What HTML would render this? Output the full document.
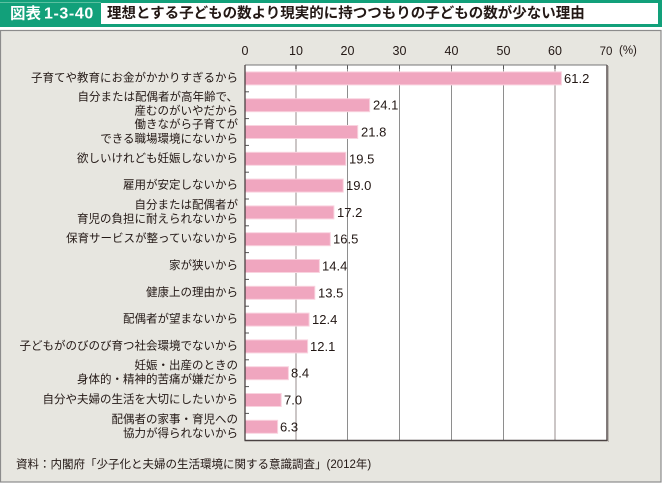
<!DOCTYPE html>
<html><head><meta charset="utf-8"><style>
html,body{margin:0;padding:0;background:#fff;}
svg{display:block;}
text{font-family:"Liberation Sans","Noto Sans CJK JP",sans-serif;fill:#231815;}
.lab{font-size:11.5px;text-anchor:end;dominant-baseline:central;}
.val{font-size:13px;dominant-baseline:central;}
.ax{font-size:12.5px;text-anchor:middle;dominant-baseline:central;}
</style></head><body>
<svg width="662" height="483" viewBox="0 0 662 483" xmlns="http://www.w3.org/2000/svg">
<!-- header -->
<rect x="0" y="0" width="662" height="27" fill="#12a07a"/>
<rect x="0" y="2" width="101" height="1" fill="#5cc0a0"/>
<rect x="101" y="3" width="557" height="21" fill="#fff"/>
<text x="10" y="14" style="font-size:15.5px;font-weight:bold;fill:#fff;dominant-baseline:central;">図表</text>
<text x="44" y="14" style="font-size:16px;font-weight:bold;fill:#fff;dominant-baseline:central;letter-spacing:0.6px;">1-3-40</text>
<text x="107" y="14" style="font-size:14.5px;font-weight:bold;dominant-baseline:central;">理想とする子どもの数より現実的に持つつもりの子どもの数が少ない理由</text>
<!-- panel -->
<rect x="0.5" y="30.5" width="660.5" height="451.5" fill="#e7e6e0" stroke="#8c8c8c" stroke-width="1.2"/>
<!-- plot -->
<rect x="245" y="65" width="362" height="375" fill="#fff"/>
<g stroke-width="1">
<line x1="296" y1="65" x2="296" y2="440" stroke="#cbc6c6" stroke-width="2"/>
<line x1="347.5" y1="65" x2="347.5" y2="440" stroke="#8e8e8e"/>
<line x1="399.5" y1="65" x2="399.5" y2="440" stroke="#8e8e8e"/>
<line x1="451.5" y1="65" x2="451.5" y2="440" stroke="#8e8e8e"/>
<line x1="503.5" y1="65" x2="503.5" y2="440" stroke="#8e8e8e"/>
<line x1="555" y1="65" x2="555" y2="440" stroke="#cbc6c6" stroke-width="2"/>
</g>
<!-- top ticks -->
<g stroke="#555" stroke-width="1">
<line x1="296" y1="65" x2="296" y2="69"/>
<line x1="347.5" y1="65" x2="347.5" y2="69"/>
<line x1="399.5" y1="65" x2="399.5" y2="69"/>
<line x1="451.5" y1="65" x2="451.5" y2="69"/>
<line x1="503.5" y1="65" x2="503.5" y2="69"/>
<line x1="555" y1="65" x2="555" y2="69"/>
</g>
<!-- left ticks -->
<g stroke="#555" stroke-width="1">
<line x1="245" y1="91.8" x2="249" y2="91.8"/>
<line x1="245" y1="118.6" x2="249" y2="118.6"/>
<line x1="245" y1="145.4" x2="249" y2="145.4"/>
<line x1="245" y1="172.2" x2="249" y2="172.2"/>
<line x1="245" y1="199" x2="249" y2="199"/>
<line x1="245" y1="225.8" x2="249" y2="225.8"/>
<line x1="245" y1="252.6" x2="249" y2="252.6"/>
<line x1="245" y1="279.4" x2="249" y2="279.4"/>
<line x1="245" y1="306.2" x2="249" y2="306.2"/>
<line x1="245" y1="333" x2="249" y2="333"/>
<line x1="245" y1="359.8" x2="249" y2="359.8"/>
<line x1="245" y1="386.6" x2="249" y2="386.6"/>
<line x1="245" y1="413.4" x2="249" y2="413.4"/>
</g>
<!-- bars -->
<g fill="#f0a6bf" stroke="#f9d3df" stroke-width="1">
<rect x="245" y="71.9" width="316.4" height="13"/>
<rect x="245" y="98.7" width="124.6" height="13"/>
<rect x="245" y="125.5" width="112.7" height="13"/>
<rect x="245" y="152.3" width="100.8" height="13"/>
<rect x="245" y="179.1" width="98.2" height="13"/>
<rect x="245" y="205.9" width="88.9" height="13"/>
<rect x="245" y="232.7" width="85.3" height="13"/>
<rect x="245" y="259.5" width="74.4" height="13"/>
<rect x="245" y="286.3" width="69.8" height="13"/>
<rect x="245" y="313.1" width="64.1" height="13"/>
<rect x="245" y="339.9" width="62.6" height="13"/>
<rect x="245" y="366.7" width="43.4" height="13"/>
<rect x="245" y="393.5" width="36.2" height="13"/>
<rect x="245" y="420.3" width="32.6" height="13"/>
</g>
<!-- plot border -->
<line x1="245" y1="65" x2="607" y2="65" stroke="#777" stroke-width="1"/>
<line x1="245" y1="65" x2="245" y2="440.5" stroke="#4a4242" stroke-width="1.3"/>
<line x1="607" y1="65" x2="607" y2="441" stroke="#5a5050" stroke-width="1.5"/>
<line x1="244.5" y1="440.5" x2="607.5" y2="440.5" stroke="#4a4242" stroke-width="1.6"/>
<line x1="608.5" y1="66" x2="608.5" y2="442" stroke="#bdb9b4" stroke-width="1"/>
<!-- values -->
<g>
<text class="val" x="564" y="78.4">61.2</text>
<text class="val" x="373" y="105.2">24.1</text>
<text class="val" x="361" y="132">21.8</text>
<text class="val" x="349" y="158.8">19.5</text>
<text class="val" x="346" y="185.6">19.0</text>
<text class="val" x="337" y="212.4">17.2</text>
<text class="val" x="333" y="239.2">16.5</text>
<text class="val" x="322" y="266">14.4</text>
<text class="val" x="318" y="292.8">13.5</text>
<text class="val" x="312" y="319.6">12.4</text>
<text class="val" x="310" y="346.4">12.1</text>
<text class="val" x="291" y="373.2">8.4</text>
<text class="val" x="284" y="400">7.0</text>
<text class="val" x="280" y="426.8">6.3</text>
</g>
<!-- axis labels -->
<text class="ax" x="245" y="51">0</text>
<text class="ax" x="296" y="51">10</text>
<text class="ax" x="347.5" y="51">20</text>
<text class="ax" x="399.5" y="51">30</text>
<text class="ax" x="451.5" y="51">40</text>
<text class="ax" x="503.5" y="51">50</text>
<text class="ax" x="555" y="51">60</text>
<text class="ax" x="606" y="52" style="font-size:11.5px;">70</text>
<text x="619" y="51" style="font-size:11.5px;dominant-baseline:central;">(%)</text>
<!-- category labels -->
<text class="lab" x="238" y="78.4">子育てや教育にお金がかかりすぎるから</text>
<text class="lab" x="238" y="97.5">自分または配偶者が高年齢で、</text>
<text class="lab" x="238" y="111.5">産むのがいやだから</text>
<text class="lab" x="238" y="125">働きながら子育てが</text>
<text class="lab" x="238" y="139.5">できる職場環境にないから</text>
<text class="lab" x="238" y="158.8">欲しいけれども妊娠しないから</text>
<text class="lab" x="238" y="185.6">雇用が安定しないから</text>
<text class="lab" x="238" y="205.4">自分または配偶者が</text>
<text class="lab" x="238" y="219.4">育児の負担に耐えられないから</text>
<text class="lab" x="238" y="239.2">保育サービスが整っていないから</text>
<text class="lab" x="238" y="266">家が狭いから</text>
<text class="lab" x="238" y="292.8">健康上の理由から</text>
<text class="lab" x="238" y="319.6">配偶者が望まないから</text>
<text class="lab" x="238" y="346.4">子どもがのびのび育つ社会環境でないから</text>
<text class="lab" x="238" y="366.2">妊娠・出産のときの</text>
<text class="lab" x="238" y="380.2">身体的・精神的苦痛が嫌だから</text>
<text class="lab" x="238" y="400">自分や夫婦の生活を大切にしたいから</text>
<text class="lab" x="238" y="420">配偶者の家事・育児への</text>
<text class="lab" x="238" y="434">協力が得られないから</text>
<!-- source -->
<text x="16" y="465" style="font-size:11.5px;dominant-baseline:central;">資料：内閣府「少子化と夫婦の生活環境に関する意識調査」(2012年)</text>
</svg>
</body></html>
